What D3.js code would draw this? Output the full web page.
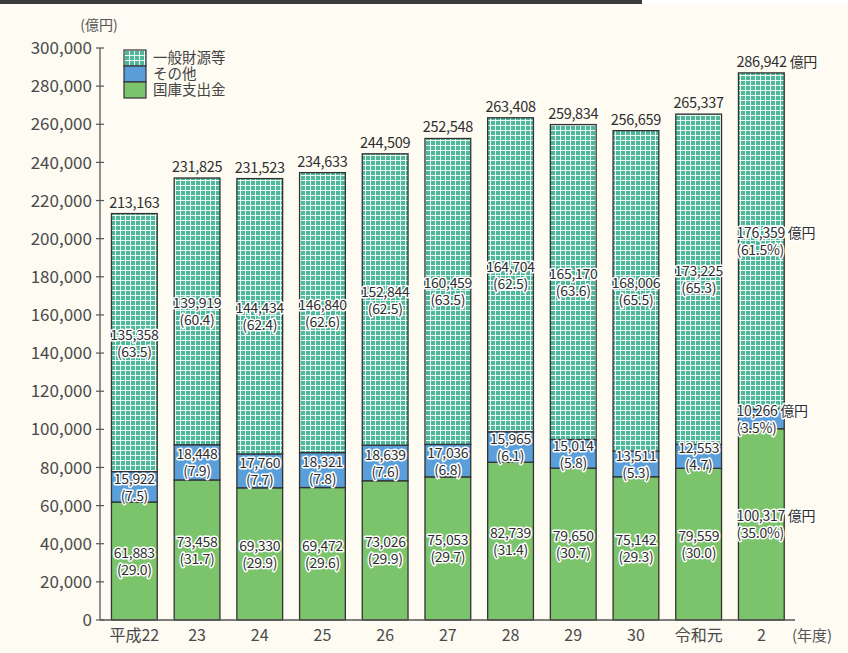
<!DOCTYPE html>
<meta charset="utf-8">
<script src="https://d3js.org/d3.v7.min.js"></script>
<style>
  body { margin: 0; background: #fff; }
  text { font-family: "Noto Sans CJK JP", "Noto Sans", sans-serif; }
</style>
<div id="chart"></div>
<script>

// data
var years = ["平成22", "23", "24", "25", "26", "27", "28", "29", "30", "令和元", "2"];
var kokko = [61883, 73458, 69330, 69472, 73026, 75053, 82739, 79650, 75142, 79559, 100317];
var kokkoPct = ["29.0", "31.7", "29.9", "29.6", "29.9", "29.7", "31.4", "30.7", "29.3", "30.0", "35.0%"];
var sonota = [15922, 18448, 17760, 18321, 18639, 17036, 15965, 15014, 13511, 12553, 10266];
var sonotaPct = ["7.5", "7.9", "7.7", "7.8", "7.6", "6.8", "6.1", "5.8", "5.3", "4.7", "3.5%"];
var ippan = [135358, 139919, 144434, 146840, 152844, 160459, 164704, 165170, 168006, 173225, 176359];
var ippanPct = ["63.5", "60.4", "62.4", "62.6", "62.5", "63.5", "62.5", "63.6", "65.5", "65.3", "61.5%"];
var totals = [213163, 231825, 231523, 234633, 244509, 252548, 263408, 259834, 256659, 265337, 286942];
var yTicks = d3.range(0, 300001, 20000);

var width = 848, height = 653;
var svg = d3.select("#chart").append("svg")
  .attr("width", width)
  .attr("height", height);

// background + top dark band
svg.append("rect").attr("x", 0).attr("y", 4).attr("width", width).attr("height", height - 4).attr("fill", "#fdfbf2");
svg.append("rect").attr("x", 0).attr("y", 0).attr("width", 642).attr("height", 4).attr("fill", "#3b3b3b");

// grid pattern for 一般財源等
var defs = svg.append("defs");
var pat = defs.append("pattern")
  .attr("id", "grid")
  .attr("patternUnits", "userSpaceOnUse")
  .attr("width", 5).attr("height", 5);
pat.append("rect").attr("width", 5).attr("height", 5).attr("fill", "#4fb79a");
pat.append("path").attr("d", "M0,0.5H5M0.5,0V5")
  .attr("stroke", "#eaf8f3").attr("stroke-width", 1);

var y = d3.scaleLinear().domain([0, 300000]).range([620, 48]);
var x = d3.scaleBand().domain(years).range([103, 792.7])
  .paddingInner(0.27).paddingOuter(0.135);

// y axis
var yAxis = svg.append("g").attr("transform", "translate(100,0)");
yAxis.append("line").attr("x1", 0).attr("x2", 0).attr("y1", y(300000)).attr("y2", y(0))
  .attr("stroke", "#555").attr("stroke-width", 1.3);
yAxis.selectAll(".tk").data(yTicks).enter().append("line")
  .attr("x1", -4).attr("x2", 4)
  .attr("y1", function(d) { return y(d); }).attr("y2", function(d) { return y(d); })
  .attr("stroke", "#555").attr("stroke-width", 1.2);
yAxis.selectAll(".tl").data(yTicks).enter().append("text")
  .attr("x", -8).attr("y", function(d) { return y(d); })
  .attr("dy", "0.36em")
  .attr("text-anchor", "end")
  .attr("font-size", 17)
  .attr("fill", "#4a4a4a")
  .text(function(d) { return d3.format(",")(d); });
svg.append("text").attr("x", 99).attr("y", 30).attr("text-anchor", "middle")
  .attr("font-size", 14).attr("fill", "#555").text("(億円)");

// stacked bars
var rows = years.map(function(yr, i) {
  return { year: yr, i: i, kokko: kokko[i], sonota: sonota[i], ippan: ippan[i] };
});
var stack = d3.stack().keys(["kokko", "sonota", "ippan"])(rows);
var fills = { kokko: "#7cc46b", sonota: "#5a9fd9", ippan: "url(#grid)" };

svg.append("g").selectAll("g").data(stack).enter().append("g")
  .attr("fill", function(s) { return fills[s.key]; })
  .selectAll("rect").data(function(s) { return s; }).enter().append("rect")
    .attr("x", function(d) { return x(d.data.year); })
    .attr("y", function(d) { return y(d[1]); })
    .attr("width", x.bandwidth())
    .attr("height", function(d) { return y(d[0]) - y(d[1]); })
    .attr("stroke", "#333")
    .attr("stroke-width", 1.3);

// x axis
svg.append("line").attr("x1", 100).attr("x2", 795).attr("y1", y(0)).attr("y2", y(0))
  .attr("stroke", "#555").attr("stroke-width", 1.3);
svg.selectAll(".xl").data(years).enter().append("text")
  .attr("x", function(d) { return x(d) + x.bandwidth() / 2; })
  .attr("y", 641)
  .attr("text-anchor", "middle")
  .attr("font-size", 16)
  .attr("fill", "#4a4a4a")
  .text(function(d) { return d; });
svg.append("text").attr("x", 812).attr("y", 641).attr("text-anchor", "middle")
  .attr("font-size", 15).attr("fill", "#555").text("(年度)");

// labels
var last = years.length - 1;
function labelX(i) {
  return i === last ? x(years[i]) - 2 : x(years[i]) + x.bandwidth() / 2;
}
function anchor(i) { return i === last ? "start" : "middle"; }

var labels = svg.append("g")
  .attr("font-size", 14)
  .attr("fill", "#2e2e2e")
  .attr("stroke", "#fff")
  .attr("stroke-width", 3)
  .attr("stroke-linejoin", "round")
  .attr("paint-order", "stroke")
  .attr("letter-spacing", "-0.3");

function segLabels(vals, pcts, base) {
  vals.forEach(function(v, i) {
    var mid = y(base[i] + v / 2);
    var t = labels.append("text").attr("text-anchor", anchor(i));
    t.append("tspan").attr("x", labelX(i)).attr("y", mid - 3)
      .text(d3.format(",")(v) + (i === last ? " " : ""));
    if (i === last) t.append("tspan").text("億円");
    labels.append("text").attr("text-anchor", anchor(i))
      .attr("x", labelX(i)).attr("y", mid + 14)
      .text("(" + pcts[i] + ")");
  });
}
var zeros = years.map(function() { return 0; });
segLabels(kokko, kokkoPct, zeros);
segLabels(sonota, sonotaPct, kokko);
segLabels(ippan, ippanPct, kokko.map(function(k, i) { return k + sonota[i]; }));

totals.forEach(function(v, i) {
  var t = labels.append("text").attr("text-anchor", anchor(i))
    .attr("stroke", "none").attr("font-size", 14.5);
  t.append("tspan").attr("x", labelX(i)).attr("y", y(v) - 6)
    .text(d3.format(",")(v) + (i === last ? " " : ""));
  if (i === last) t.append("tspan").attr("font-size", 14).text("億円");
});

// legend
var legend = svg.append("g").attr("transform", "translate(124,50)");
var legItems = [["一般財源等", "url(#grid)"], ["その他", "#5a9fd9"], ["国庫支出金", "#7cc46b"]];
legend.selectAll("rect").data(legItems).enter().append("rect")
  .attr("x", 0).attr("y", function(d, i) { return i * 16; })
  .attr("width", 22).attr("height", 16)
  .attr("fill", function(d) { return d[1]; })
  .attr("stroke", "#333").attr("stroke-width", 1.2);
legend.selectAll("text").data(legItems).enter().append("text")
  .attr("x", 29).attr("y", function(d, i) { return i * 16 + 8; })
  .attr("dy", "0.36em")
  .attr("font-size", 14.5)
  .attr("fill", "#444")
  .text(function(d) { return d[0]; });

</script>
